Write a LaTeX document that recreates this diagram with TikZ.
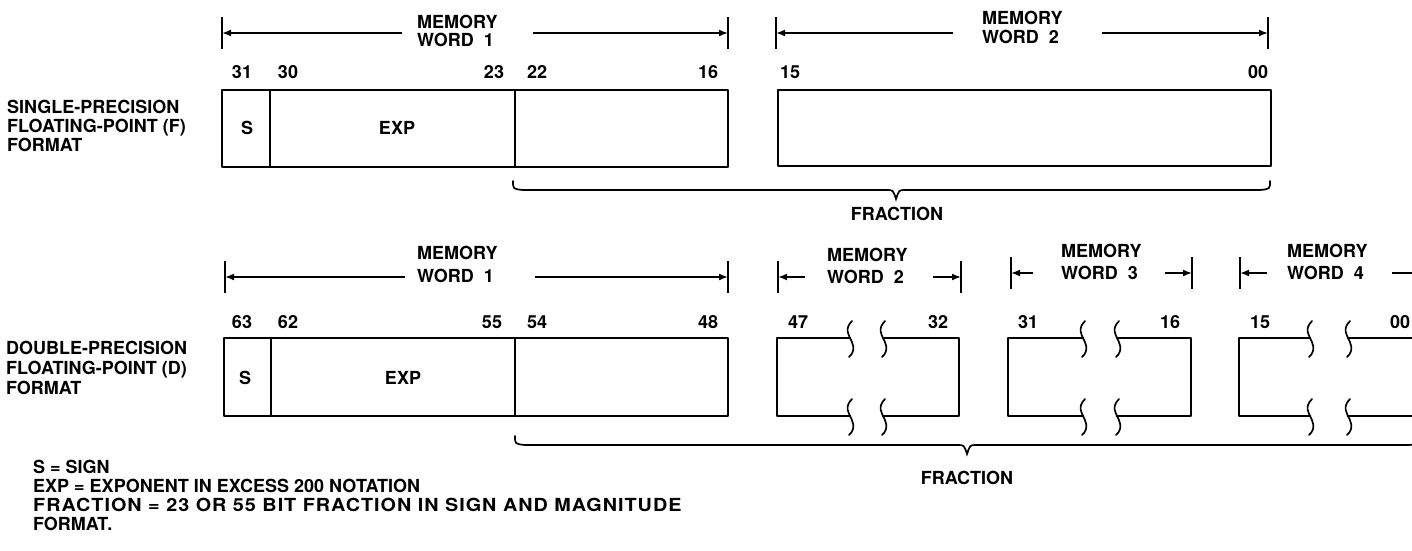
\documentclass[tikz,border=0pt]{standalone}
\usepackage{fontspec}
\setmainfont{TeX Gyre Heros}
\usetikzlibrary{arrows.meta,positioning,calc}

\tikzset{
  box/.style={line width=2.6pt,line join=round,line cap=round},
  sep/.style={line width=1.5pt},
  dim/.style={line width=1.7pt,-{Latex[length=9pt,width=7pt]}},
  tick/.style={line width=1.7pt},
  brk/.style={line width=1.7pt,line cap=round},
  txt/.style={inner sep=0pt,font=\fontsize{18}{18}\selectfont\bfseries},
  word/.style={txt,anchor=west,align=left},
}

% wavy break mark through a box edge: x, y
\newcommand\brkmark[2]{%
  \draw[brk] (#1+2,#2-17) .. controls (#1-6,#2-9) and (#1-1,#2-3) .. (#1,#2)
    .. controls (#1+2,#2+4) and (#1+7,#2+12) .. (#1-1,#2+19);}
% brace under the fraction: left x, right x, y, tip x
\newcommand\fracbrace[4]{%
  \draw[brk] (#1,#3-9) .. controls (#1,#3-1) .. (#1+10,#3) -- (#4-9,#3)
    .. controls (#4-3,#3) .. (#4,#3+9) .. controls (#4+3,#3) .. (#4+9,#3)
    -- (#2-10,#3) .. controls (#2,#3-1) .. (#2,#3-9);}

\begin{document}
\begin{tikzpicture}[x=1pt,y=-1pt]
\useasboundingbox (0,0) rectangle (1412,550);
\clip (0,0) rectangle (1412,550);

% word spans
\foreach \n/\ta/\sa/\sb/\tb/\yy in {F1/222/402/533/728/33, F2/776/953/1102/1268/33,
    D1/225/405/535/728/277, D2/778/805/933/961/277,
    D3/1011/1033/1165/1192/273, D4/1240/1267/1392/1421/273}{
  \coordinate (\n ta) at (\ta,\yy);
  \coordinate (\n sa) at (\sa,\yy);
  \coordinate (\n sb) at (\sb,\yy);
  \coordinate (\n tb) at (\tb,\yy);
  \draw[tick] ($(\n ta)+(0,-16)$) -- ($(\n ta)+(0,16)$);
  \draw[tick] ($(\n tb)+(0,-16)$) -- ($(\n tb)+(0,16)$);
  \draw[dim] (\n sa) -- (\n ta);
  \draw[dim] (\n sb) -- (\n tb);
}
\node[word] (mwF1) at (417,31) {MEMORY\\WORD\ \ 1};
\node[word] (mwF2) at (982,27) {MEMORY\\[1pt]WORD\ \ 2};
\node[word] (mwD1) at (417,264) {MEMORY\\[5pt]WORD\ \ 1};
\node[word] (mwD2) at (827,266) {MEMORY\\[4pt]WORD\ \ 2};
\node[word] (mwD3) at (1061,262) {MEMORY\\[4pt]WORD\ \ 3};
\node[word] (mwD4) at (1287,262) {MEMORY\\[4pt]WORD\ \ 4};

% format names
\node[word] (sgl) at (7,126) {SINGLE-PRECISION\\[1pt]FLOATING-POINT (F)\\[1pt]FORMAT};
\node[word] (dbl) at (6,368) {DOUBLE-PRECISION\\[2pt]FLOATING-POINT (D)\\[2pt]FORMAT};

% bit numbers
\foreach \x/\t in {242/31, 288/30, 494/23, 537/22, 708/16, 790/15, 1258/00}
  \node[txt] (bF\t) at (\x,72) {\t};
\foreach \x/\t in {242/63, 288/62, 492/55, 537/54, 708/48, 798/47, 938/32,
    1028/31, 1170/16, 1260/15, 1400/00}
  \node[txt] (bD\t) at (\x,322) {\t};

% single precision
\draw[box] (222,90) rectangle (728,167);
\draw[sep] (270,90) -- (270,167);
\draw[sep] (515,90) -- (515,167);
\draw[box] (778,90) rectangle (1271,166);
\node[txt] (sF) at (247,128) {S};
\node[txt] (eF) at (397,128) {EXP};
\fracbrace{513}{1270}{190}{896}
\node[txt] (frF) at (897,214) {FRACTION};

% double precision
\draw[box] (224,338) rectangle (728,416);
\draw[sep] (271,338) -- (271,416);
\draw[sep] (515,338) -- (515,416);
\node[txt] (sD) at (245,378) {S};
\node[txt] (eD) at (403,378) {EXP};
\foreach \l/\a/\b/\r in {777/850/883/959, 1008/1083/1117/1191, 1239/1310/1348/1421}{
  \draw[box] (\a,338) -- (\l,338) -- (\l,416) -- (\a,416);
  \draw[box] (\b,338) -- (\r,338) -- (\r,416) -- (\b,416);
  \brkmark{\a}{338} \brkmark{\a}{416}
  \brkmark{\b}{338} \brkmark{\b}{416}
}
\fracbrace{515}{1419}{445}{967}
\node[txt] (frD) at (967,478) {FRACTION};

% key
\node[word] (key) at (33,495) {S = SIGN\\[1pt]EXP = EXPONENT IN EXCESS 200 NOTATION\\[1pt]\scalebox{1.1}[1]{\addfontfeature{LetterSpace=5}FRACTION = 23 OR 55 BIT FRACTION IN SIGN AND MAGNITUDE}\\[1pt]FORMAT.};
\end{tikzpicture}
\end{document}
